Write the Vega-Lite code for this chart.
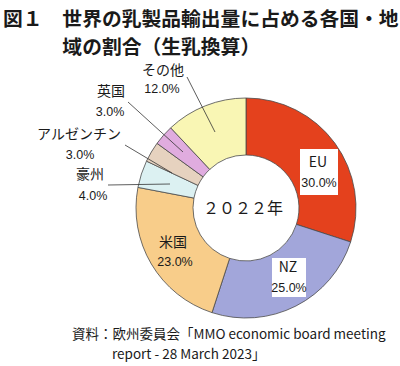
{
  "$schema": "https://vega.github.io/schema/vega-lite/v6.json",
  "width": 308,
  "height": 292,
  "autosize": {"type": "none"},
  "padding": {"left": 92, "top": 62, "right": 0, "bottom": 12},
  "background": "white",
  "config": {"view": {"stroke": null}, "font": "Noto Sans CJK JP"},
  "title": {
    "text": ["図１　世界の乳製品輸出量に占める各国・地", "\u200b　　　域の割合（生乳換算）"],
    "anchor": "start",
    "frame": "group",
    "dx": -89,
    "offset": 4,
    "font": "Noto Sans CJK JP",
    "fontSize": 19.8,
    "fontWeight": "bold",
    "lineHeight": 28,
    "color": "#1a1a1a"
  },
  "datasets": {
    "shares": [
      {"region": "EU", "share": 0.30, "rank": 1},
      {"region": "NZ", "share": 0.25, "rank": 2},
      {"region": "米国", "share": 0.23, "rank": 3},
      {"region": "豪州", "share": 0.04, "rank": 4},
      {"region": "アルゼンチン", "share": 0.03, "rank": 5},
      {"region": "英国", "share": 0.03, "rank": 6},
      {"region": "その他", "share": 0.12, "rank": 7}
    ],
    "labels": [
      {"region": "EU", "nx": 72, "ny": 45, "px": 73, "py": 25},
      {"region": "NZ", "nx": 42, "ny": -60, "px": 43, "py": -80},
      {"region": "米国", "nx": -73, "ny": -35, "px": -71, "py": -54},
      {"region": "豪州", "nx": -156, "ny": 33, "px": -153, "py": 12},
      {"region": "アルゼンチン", "nx": -167, "ny": 73, "px": -166, "py": 53},
      {"region": "英国", "nx": -135, "ny": 116, "px": -136, "py": 96},
      {"region": "その他", "nx": -83, "ny": 137, "px": -84, "py": 119}
    ],
    "leaders": [
      {"region": "その他", "x": -59, "y": 131, "x2": -31, "y2": 76},
      {"region": "英国", "x": -118, "y": 106, "x2": -63, "y2": 56},
      {"region": "アルゼンチン", "x": -121, "y": 63, "x2": -74, "y2": 35},
      {"region": "豪州", "x": -138, "y": 23, "x2": -76, "y2": 24}
    ],
    "boxes": [
      {"region": "EU", "x": 54, "x2": 92, "y": 59, "y2": 13},
      {"region": "NZ", "x": 26, "x2": 60, "y": -50, "y2": -89}
    ],
    "notes": [
      {"note": "center", "x": -3, "y": -1, "text": "２０２２年"}
    ],
    "source": [
      {"x": -174, "y": -127, "line": "資料：欧州委員会「MMO economic board meeting"},
      {"x": -134, "y": -147, "line": "report - 28 March 2023」"}
    ]
  },
  "layer": [
    {
      "data": {"name": "shares"},
      "mark": {"type": "arc", "outerRadius": 110, "innerRadius": 53, "stroke": "#4a4a4a", "strokeWidth": 0.8},
      "encoding": {
        "theta": {"field": "share", "type": "quantitative", "stack": true},
        "order": {"field": "rank", "type": "quantitative"},
        "color": {
          "field": "region",
          "type": "nominal",
          "scale": {
            "domain": ["EU", "NZ", "米国", "豪州", "アルゼンチン", "英国", "その他"],
            "range": ["#e4411d", "#a2a6da", "#f8cd8a", "#dcf1f2", "#e6d2bf", "#e0acdf", "#f9f6b4"]
          },
          "legend": null
        }
      }
    },
    {
      "data": {"name": "leaders"},
      "mark": {"type": "rule", "stroke": "#333333", "strokeWidth": 0.8},
      "encoding": {
        "x": {"field": "x", "type": "quantitative", "scale": {"domain": [-154, 154], "nice": false, "zero": false}, "axis": null},
        "y": {"field": "y", "type": "quantitative", "scale": {"domain": [-146, 146], "nice": false, "zero": false}, "axis": null},
        "x2": {"field": "x2"},
        "y2": {"field": "y2"}
      }
    },
    {
      "data": {"name": "boxes"},
      "mark": {"type": "rect", "fill": "white"},
      "encoding": {
        "x": {"field": "x", "type": "quantitative", "scale": {"domain": [-154, 154], "nice": false, "zero": false}, "axis": null},
        "y": {"field": "y", "type": "quantitative", "scale": {"domain": [-146, 146], "nice": false, "zero": false}, "axis": null},
        "x2": {"field": "x2"},
        "y2": {"field": "y2"}
      }
    },
    {
      "data": {"name": "labels"},
      "mark": {"type": "text", "font": "Noto Sans CJK JP", "fontSize": 14, "color": "#1a1a1a", "align": "center", "baseline": "middle"},
      "encoding": {
        "x": {"field": "nx", "type": "quantitative", "scale": {"domain": [-154, 154], "nice": false, "zero": false}, "axis": null},
        "y": {"field": "ny", "type": "quantitative", "scale": {"domain": [-146, 146], "nice": false, "zero": false}, "axis": null},
        "text": {"field": "region"}
      }
    },
    {
      "data": {"name": "labels"},
      "transform": [
        {"lookup": "region", "from": {"data": {"name": "shares"}, "key": "region", "fields": ["share"]}}
      ],
      "mark": {"type": "text", "font": "Liberation Sans", "fontSize": 12.5, "color": "#1a1a1a", "align": "center", "baseline": "middle"},
      "encoding": {
        "x": {"field": "px", "type": "quantitative", "scale": {"domain": [-154, 154], "nice": false, "zero": false}, "axis": null},
        "y": {"field": "py", "type": "quantitative", "scale": {"domain": [-146, 146], "nice": false, "zero": false}, "axis": null},
        "text": {"field": "share", "format": ".1%"}
      }
    },
    {
      "data": {"name": "notes"},
      "mark": {"type": "text", "font": "Noto Sans CJK JP", "fontSize": 16, "color": "#1a1a1a", "align": "center", "baseline": "middle"},
      "encoding": {
        "x": {"field": "x", "type": "quantitative", "scale": {"domain": [-154, 154], "nice": false, "zero": false}, "axis": null},
        "y": {"field": "y", "type": "quantitative", "scale": {"domain": [-146, 146], "nice": false, "zero": false}, "axis": null},
        "text": {"field": "text"}
      }
    },
    {
      "data": {"name": "source"},
      "mark": {"type": "text", "font": "Noto Sans CJK JP", "fontSize": 13.5, "color": "#1a1a1a", "align": "left", "baseline": "middle"},
      "encoding": {
        "x": {"field": "x", "type": "quantitative", "scale": {"domain": [-154, 154], "nice": false, "zero": false}, "axis": null},
        "y": {"field": "y", "type": "quantitative", "scale": {"domain": [-146, 146], "nice": false, "zero": false}, "axis": null},
        "text": {"field": "line"}
      }
    }
  ]
}
